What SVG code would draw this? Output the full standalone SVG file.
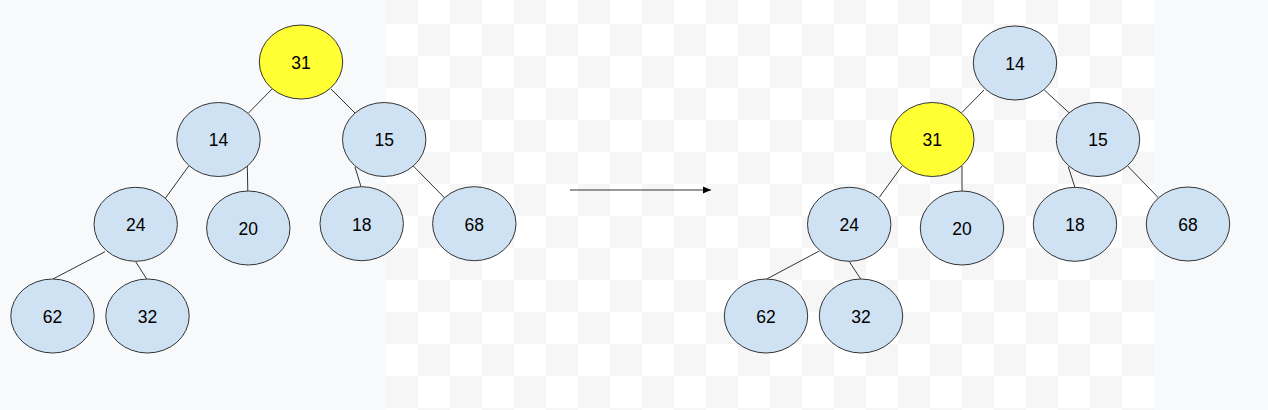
<svg xmlns="http://www.w3.org/2000/svg" width="1268" height="410" viewBox="0 0 1268 410">
  <style>
    .node ellipse { stroke: #333333; stroke-width: 1; }
    .blue ellipse { fill: #cfe2f3; }
    .yellow ellipse { fill: #ffff33; }
    .node text { font-family: "Liberation Sans", Arial, sans-serif; font-size: 17.5px; fill: #000000; text-anchor: middle; }
    .edge { stroke: #333333; stroke-width: 1; fill: none; }
  </style>
  <defs>
    <pattern id="checker" x="386" y="-8" width="64" height="64" patternUnits="userSpaceOnUse">
      <rect x="0" y="0" width="64" height="64" fill="#ffffff"/>
      <rect x="0" y="0" width="32" height="32" fill="#f6f6f6"/>
      <rect x="32" y="32" width="32" height="32" fill="#f6f6f6"/>
    </pattern>
    <marker id="arrow" markerWidth="8" markerHeight="8" refX="8" refY="4" orient="auto" markerUnits="userSpaceOnUse">
      <path d="M0,0.5 L8,4 L0,7.5 Z" fill="#000000"/>
    </marker>
  </defs>

  <rect x="0" y="0" width="1268" height="410" fill="#f8f9fb"/>
  <rect x="386" y="0" width="768" height="410" fill="url(#checker)"/>

  <g id="connectors">
    <!-- left tree -->
    <line class="edge" x1="272" y1="89" x2="248.5" y2="113"/>
    <line class="edge" x1="331" y1="89" x2="355" y2="113"/>
    <line class="edge" x1="188.7" y1="166" x2="165.3" y2="198.3"/>
    <line class="edge" x1="247.3" y1="165" x2="247.8" y2="191.3"/>
    <line class="edge" x1="355" y1="167" x2="361" y2="186.7"/>
    <line class="edge" x1="413.3" y1="166" x2="445" y2="198.3"/>
    <line class="edge" x1="105" y1="251.7" x2="53" y2="279"/>
    <line class="edge" x1="135.7" y1="261.7" x2="147.3" y2="280"/>
    <!-- right tree -->
    <line class="edge" x1="984" y1="90" x2="961.7" y2="112.7"/>
    <line class="edge" x1="1044.3" y1="90" x2="1069" y2="112.7"/>
    <line class="edge" x1="902" y1="166" x2="879.3" y2="197.3"/>
    <line class="edge" x1="962" y1="166" x2="962" y2="191.3"/>
    <line class="edge" x1="1068.3" y1="166.7" x2="1075" y2="187.7"/>
    <line class="edge" x1="1127.7" y1="166" x2="1158.3" y2="197.7"/>
    <line class="edge" x1="819.3" y1="251" x2="766.7" y2="279"/>
    <line class="edge" x1="849.3" y1="261.7" x2="860.7" y2="279"/>
    <!-- transform arrow -->
    <line class="edge" x1="570" y1="190" x2="711" y2="190" stroke="#000000" marker-end="url(#arrow)"/>
  </g>

  <!-- left tree nodes -->
  <g id="L31" class="node yellow"><ellipse cx="301" cy="62" rx="41.7" ry="37"/><text x="301" y="68.8">31</text></g>
  <g id="L14" class="node blue"><ellipse cx="218.5" cy="139.5" rx="41.7" ry="37"/><text x="218.5" y="146.3">14</text></g>
  <g id="L15" class="node blue"><ellipse cx="384.2" cy="139.5" rx="41.7" ry="37"/><text x="384.2" y="146.3">15</text></g>
  <g id="L24" class="node blue"><ellipse cx="135.7" cy="224.3" rx="41.7" ry="37"/><text x="135.7" y="231.1">24</text></g>
  <g id="L20" class="node blue"><ellipse cx="248.3" cy="228" rx="41.7" ry="37"/><text x="248.3" y="234.8">20</text></g>
  <g id="L18" class="node blue"><ellipse cx="361.7" cy="223.7" rx="41.7" ry="37"/><text x="361.7" y="230.5">18</text></g>
  <g id="L68" class="node blue"><ellipse cx="474.3" cy="223.7" rx="41.7" ry="37"/><text x="474.3" y="230.5">68</text></g>
  <g id="L62" class="node blue"><ellipse cx="52.5" cy="316" rx="41.7" ry="37"/><text x="52.5" y="322.8">62</text></g>
  <g id="L32" class="node blue"><ellipse cx="147.5" cy="316" rx="41.7" ry="37"/><text x="147.5" y="322.8">32</text></g>

  <!-- right tree nodes -->
  <g id="R14" class="node blue"><ellipse cx="1015" cy="63" rx="41.7" ry="37"/><text x="1015" y="69.8">14</text></g>
  <g id="R31" class="node yellow"><ellipse cx="932.3" cy="139.5" rx="41.7" ry="37"/><text x="932.3" y="146.3">31</text></g>
  <g id="R15" class="node blue"><ellipse cx="1098" cy="139.5" rx="41.7" ry="37"/><text x="1098" y="146.3">15</text></g>
  <g id="R24" class="node blue"><ellipse cx="849.2" cy="224.3" rx="41.7" ry="37"/><text x="849.2" y="231.1">24</text></g>
  <g id="R20" class="node blue"><ellipse cx="962" cy="228" rx="41.7" ry="37"/><text x="962" y="234.8">20</text></g>
  <g id="R18" class="node blue"><ellipse cx="1075" cy="224.3" rx="41.7" ry="37"/><text x="1075" y="231.1">18</text></g>
  <g id="R68" class="node blue"><ellipse cx="1188" cy="224" rx="41.7" ry="37"/><text x="1188" y="230.8">68</text></g>
  <g id="R62" class="node blue"><ellipse cx="766" cy="316" rx="41.7" ry="37"/><text x="766" y="322.8">62</text></g>
  <g id="R32" class="node blue"><ellipse cx="861" cy="316" rx="41.7" ry="37"/><text x="861" y="322.8">32</text></g>
</svg>
